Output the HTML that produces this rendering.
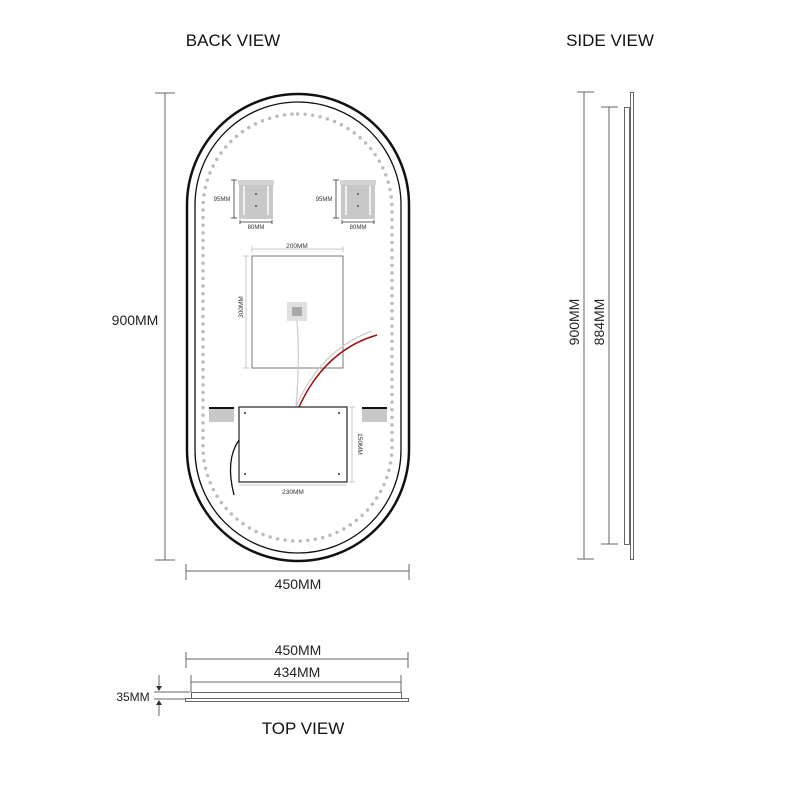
<!DOCTYPE html>
<html><head><meta charset="utf-8"><style>
html,body{margin:0;padding:0;background:#fff;}
svg{display:block;font-family:"Liberation Sans",sans-serif;}
</style></head><body>
<svg width="800" height="800" viewBox="0 0 800 800">
<rect width="800" height="800" fill="#fff"/>
<text x="233" y="46" font-size="17" text-anchor="middle" fill="#111">BACK VIEW</text>
<text x="610" y="46" font-size="17" text-anchor="middle" fill="#111">SIDE VIEW</text>
<text x="303" y="734" font-size="17" text-anchor="middle" fill="#111">TOP VIEW</text>

<rect x="187" y="94" width="222" height="467" rx="111" fill="none" stroke="#111" stroke-width="2.5"/>
<rect x="195" y="102" width="206" height="451" rx="103" fill="none" stroke="#111" stroke-width="1.3"/>
<rect x="203" y="114" width="189" height="427" rx="94.5" fill="none" stroke="#bbb" stroke-width="3.5" stroke-linecap="round" stroke-dasharray="0 7.6"/>

<g stroke="#666" stroke-width="1">
<line x1="165" y1="93" x2="165" y2="560"/>
<line x1="155" y1="93" x2="175" y2="93"/>
<line x1="155" y1="560" x2="175" y2="560"/>
<line x1="186" y1="571" x2="409" y2="571"/>
<line x1="186" y1="564" x2="186" y2="580"/>
<line x1="409" y1="564" x2="409" y2="580"/>
</g>
<text x="135" y="325" font-size="14" text-anchor="middle" fill="#222">900MM</text>
<text x="298" y="589" font-size="14" text-anchor="middle" fill="#222">450MM</text>

<g>
<rect x="239" y="180" width="34" height="39" fill="#c8c8c8"/>
<rect x="238" y="180" width="36" height="5" fill="#d4d4d4"/>
<line x1="244" y1="186" x2="244" y2="215" stroke="#fff" stroke-width="1.5"/>
<line x1="268" y1="186" x2="268" y2="215" stroke="#fff" stroke-width="1.5"/>
<circle cx="256" cy="194" r="1" fill="#555"/><circle cx="256" cy="206" r="1" fill="#555"/>
<rect x="341" y="180" width="34" height="39" fill="#c8c8c8"/>
<rect x="340" y="180" width="36" height="5" fill="#d4d4d4"/>
<line x1="346" y1="186" x2="346" y2="215" stroke="#fff" stroke-width="1.5"/>
<line x1="370" y1="186" x2="370" y2="215" stroke="#fff" stroke-width="1.5"/>
<circle cx="358" cy="194" r="1" fill="#555"/><circle cx="358" cy="206" r="1" fill="#555"/>
</g>
<g stroke="#333" stroke-width="0.8">
<line x1="234" y1="180" x2="234" y2="218"/><line x1="231" y1="180" x2="237" y2="180"/><line x1="231" y1="218" x2="237" y2="218"/>
<line x1="240" y1="222" x2="272" y2="222"/><line x1="240" y1="220" x2="240" y2="224"/><line x1="272" y1="220" x2="272" y2="224"/>
<line x1="336" y1="180" x2="336" y2="218"/><line x1="333" y1="180" x2="339" y2="180"/><line x1="333" y1="218" x2="339" y2="218"/>
<line x1="342" y1="222" x2="374" y2="222"/><line x1="342" y1="220" x2="342" y2="224"/><line x1="374" y1="220" x2="374" y2="224"/>
</g>
<g font-size="6" fill="#333" text-anchor="middle">
<text x="222" y="201">95MM</text><text x="256" y="229">80MM</text>
<text x="324" y="201">95MM</text><text x="358" y="229">80MM</text>
</g>

<rect x="252" y="256" width="91" height="112" fill="none" stroke="#777" stroke-width="1"/>
<g stroke="#bbb" stroke-width="0.8">
<line x1="252" y1="249" x2="343" y2="249"/><line x1="252" y1="246" x2="252" y2="252"/><line x1="343" y1="246" x2="343" y2="252"/>
<line x1="246" y1="256" x2="246" y2="368"/><line x1="243" y1="256" x2="249" y2="256"/><line x1="243" y1="368" x2="249" y2="368"/>
</g>
<text x="297" y="248" font-size="6.5" text-anchor="middle" fill="#333">200MM</text>
<text x="243" y="307" font-size="6.5" text-anchor="middle" fill="#333" transform="rotate(-90 243 307)">300MM</text>
<rect x="287" y="302" width="20" height="19" fill="#e0e0e0"/>
<rect x="292" y="307" width="10" height="9" fill="#aaa"/>
<path d="M297 321 Q300 360 296 407" fill="none" stroke="#ccc" stroke-width="1.2"/>
<path d="M296 407 Q320 350 372 331" fill="none" stroke="#ccc" stroke-width="1.2"/>
<path d="M299 407 Q325 350 377 335" fill="none" stroke="#a01010" stroke-width="1.5"/>

<rect x="209" y="407" width="25" height="2" fill="#111"/>
<rect x="209" y="409" width="25" height="13" fill="#c8c8c8"/>
<rect x="362" y="407" width="25" height="2" fill="#111"/>
<rect x="362" y="409" width="25" height="13" fill="#c8c8c8"/>

<rect x="239" y="407" width="108" height="75" fill="#fff" stroke="#333" stroke-width="1.3"/>
<g fill="#333"><circle cx="245" cy="413" r="1"/><circle cx="339" cy="413" r="1"/><circle cx="245" cy="474" r="1"/><circle cx="339" cy="474" r="1"/></g>
<path d="M239 440 Q225 460 234 495" fill="none" stroke="#111" stroke-width="1.3"/>
<g stroke="#bbb" stroke-width="0.8">
<line x1="352" y1="407" x2="352" y2="482"/><line x1="349" y1="407" x2="355" y2="407"/><line x1="349" y1="482" x2="355" y2="482"/>
<line x1="239" y1="485" x2="347" y2="485"/>
</g>
<text x="358" y="444" font-size="6.5" text-anchor="middle" fill="#333" transform="rotate(90 358 444)">150MM</text>
<text x="293" y="494" font-size="6.5" text-anchor="middle" fill="#333">230MM</text>

<g stroke="#666" stroke-width="1">
<line x1="584" y1="92" x2="584" y2="559"/><line x1="577" y1="92" x2="594" y2="92"/><line x1="577" y1="559" x2="594" y2="559"/>
<line x1="609" y1="107" x2="609" y2="544"/><line x1="601" y1="107" x2="618" y2="107"/><line x1="601" y1="544" x2="618" y2="544"/>
</g>
<rect x="624.5" y="107.5" width="5" height="437" fill="none" stroke="#666" stroke-width="1"/>
<rect x="630.5" y="92.5" width="3" height="467" fill="none" stroke="#666" stroke-width="1"/>
<text x="579" y="322" font-size="14" text-anchor="middle" fill="#222" transform="rotate(-90 579 322)">900MM</text>
<text x="604" y="322" font-size="14" text-anchor="middle" fill="#222" transform="rotate(-90 604 322)">884MM</text>

<g stroke="#666" stroke-width="1">
<line x1="186" y1="659" x2="408" y2="659"/><line x1="186" y1="652" x2="186" y2="668"/><line x1="408" y1="652" x2="408" y2="668"/>
<line x1="191" y1="682" x2="401" y2="682"/><line x1="191" y1="675" x2="191" y2="692"/><line x1="401" y1="675" x2="401" y2="692"/>
<rect x="191.5" y="692.5" width="210" height="6" fill="none"/>
<rect x="185.5" y="698.5" width="223" height="3" fill="none"/>
<line x1="154" y1="692" x2="190" y2="692"/><line x1="154" y1="699" x2="185" y2="699"/>
<line x1="159" y1="675" x2="159" y2="690"/><line x1="159" y1="701" x2="159" y2="716"/>
</g>
<path d="M156 686 L159 691 L162 686 Z" fill="#333"/>
<path d="M156 705 L159 700 L162 705 Z" fill="#333"/>
<text x="298" y="655" font-size="14" text-anchor="middle" fill="#222">450MM</text>
<text x="297" y="677" font-size="14" text-anchor="middle" fill="#222">434MM</text>
<text x="133" y="701" font-size="12" text-anchor="middle" fill="#222">35MM</text>
</svg>
</body></html>
